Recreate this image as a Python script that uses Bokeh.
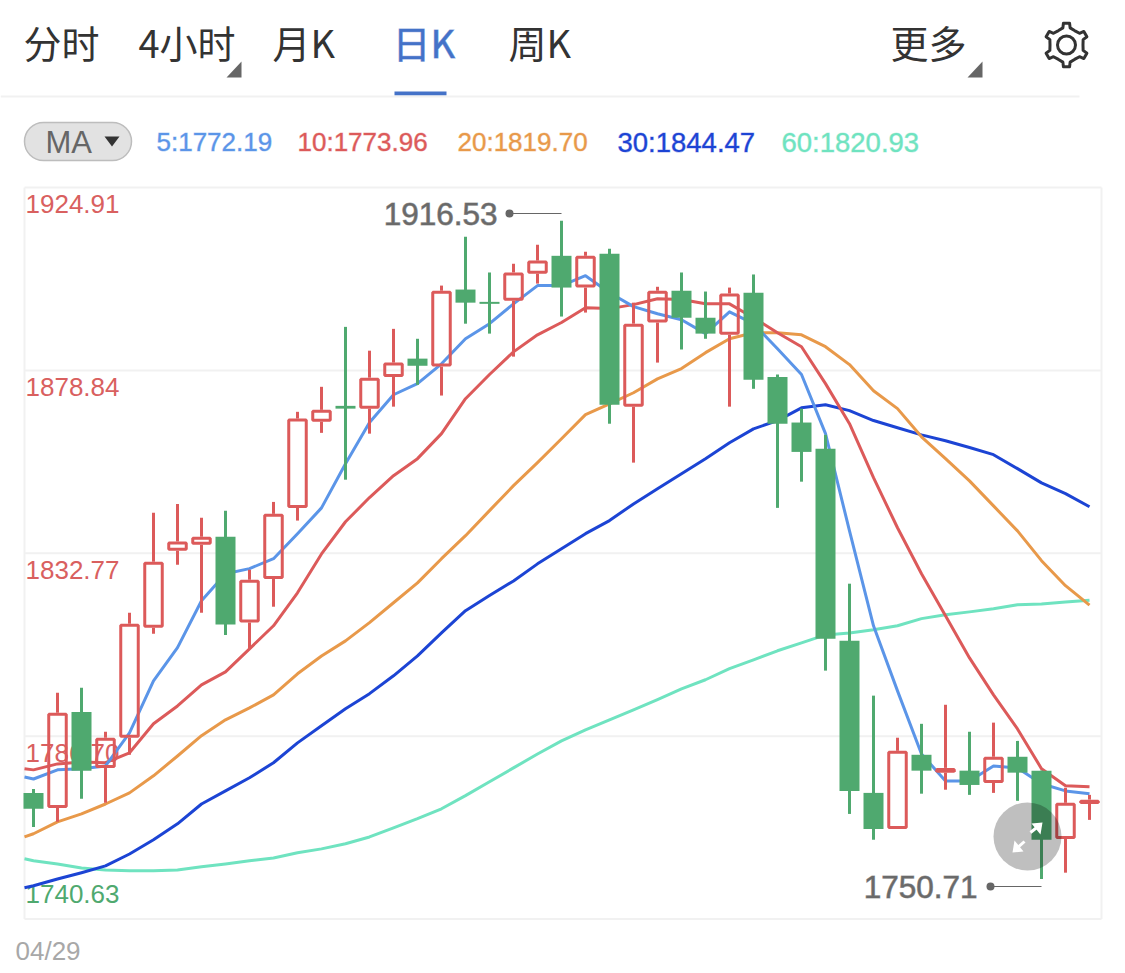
from bokeh.plotting import figure
from bokeh.models import Range1d
from bokeh.core.properties import value
from bokeh.embed import file_html
from bokeh.resources import INLINE
import math

# ---- chart values ----
tick_values = [1924.91, 1878.84, 1832.77, 1786.70, 1740.63]
tick_labels = ["1924.91", "1878.84", "1832.77", "1786.70", "1740.63"]
tick_colors = ["#d9605f", "#d9605f", "#d9605f", "#d9605f", "#4fa96f"]
date_label = "04/29"
tabs = ["分时", "4小时", "月K", "日K", "周K", "更多"]
ma_labels = ["5:1772.19", "10:1773.96", "20:1819.70", "30:1844.47", "60:1820.93"]
peak_label, trough_label = "1916.53", "1750.71"

highs = [1773.4,1797.6,1798.9,1787.8,1817.8,1843.0,1845.2,1841.7,1843.5,1828.6,1845.7,1868.4,1874.7,1889.8,1883.8,
         1889.3,1886.8,1900.2,1912.5,1903.5,1905.7,1910.5,1916.53,1908.7,1909.5,1895.9,1899.9,1903.5,1898.7,1899.7,
         1903.0,1877.8,1869.2,1862.6,1825.1,1796.9,1786.3,1789.8,1794.6,1787.8,1790.1,1785.5,1778.0,1773.7,1771.9]
tops =  [1772.4,1792.6,1792.8,1786.3,1815.0,1830.6,1835.7,1836.9,1836.9,1826.1,1842.7,1866.7,1868.9,1869.9,1877.0,
         1880.8,1881.8,1898.9,1899.2,1896.1,1903.5,1906.5,1907.7,1907.7,1908.2,1890.6,1898.9,1898.9,1892.1,1898.2,
         1898.4,1877.2,1865.7,1859.1,1810.7,1772.4,1783.0,1782.0,1778.7,1778.0,1781.5,1781.5,1778.0,1769.9,1770.7]
bottoms=[1768.4,1768.6,1778.0,1778.7,1786.3,1814.0,1833.4,1834.9,1814.8,1815.3,1826.3,1844.2,1865.9,1869.2,1869.2,
         1877.2,1880.0,1879.8,1895.9,1895.6,1896.4,1903.2,1899.7,1899.7,1870.2,1869.7,1890.9,1892.1,1888.1,1887.8,
         1876.5,1865.4,1858.3,1811.2,1772.9,1763.3,1763.3,1778.0,1777.5,1774.4,1774.9,1777.5,1760.6,1760.8,1769.6]
lows =  [1763.8,1765.1,1770.9,1769.9,1782.0,1812.5,1829.9,1817.8,1812.2,1808.7,1819.3,1841.0,1863.1,1851.3,1862.9,
         1869.7,1875.2,1872.5,1890.6,1888.1,1882.3,1900.7,1892.4,1893.4,1865.4,1855.6,1880.8,1884.1,1886.8,1869.7,
         1874.2,1844.2,1850.8,1803.2,1767.1,1760.6,1763.3,1772.2,1773.2,1771.9,1772.4,1770.4,1750.71,1752.3,1765.6]
is_up = [0,1,0,1,1,1,1,1,0,1,1,1,1,0,1, 1,0,1,0,0,1,1,0,1,0,1,1,0,0,1, 0,0,0,0,0,0,1,0,1,0,1,0,0,1,1]

# first entry of each MA is the value at the chart's left edge
ma5 = [1776.4,1775.9,1778.2,1778.5,1779.2,1787.5,1800.6,1809.0,1820.8,1827.6,1828.9,1831.4,1837.7,1844.2,1855.3,1865.7,
       1872.7,1875.5,1880.5,1886.8,1890.6,1895.6,1900.2,1900.2,1902.7,1898.4,1894.9,1893.1,1891.6,1888.1,1893.6,1890.6,
       1884.3,1877.8,1862.9,1838.4,1814.5,1798.1,1782.2,1775.4,1775.4,1779.2,1778.7,1774.7,1772.9,1772.19]
ma10 = [1778.5,1778.2,1779.7,1780.2,1780.0,1782.5,1789.8,1794.3,1799.6,1802.9,1808.7,1814.5,1822.8,1832.6,1840.7,1846.8,
        1852.3,1856.6,1862.9,1871.7,1877.8,1883.5,1887.8,1890.9,1894.6,1894.4,1895.4,1896.9,1896.7,1895.6,1895.6,1892.1,
        1888.3,1884.8,1875.5,1865.4,1851.8,1839.2,1827.6,1817.0,1806.4,1797.1,1788.5,1778.5,1774.2,1773.96]
ma20 = [1761.3,1762.1,1765.1,1767.1,1769.6,1772.4,1776.7,1781.7,1786.8,1790.8,1793.8,1797.1,1802.4,1806.9,1810.7,1815.3,
        1820.3,1825.3,1831.4,1837.2,1843.5,1849.8,1855.6,1861.6,1867.7,1870.4,1873.2,1876.7,1879.3,1883.3,1886.8,1888.3,
        1888.3,1887.8,1884.8,1880.3,1873.7,1869.2,1862.1,1856.6,1851.0,1844.7,1838.4,1830.9,1824.6,1819.70]
ma30 = [1748.5,1749.0,1750.7,1752.3,1754.0,1757.0,1760.6,1764.6,1769.6,1772.9,1776.2,1780.0,1785.0,1789.3,1793.6,1797.4,
        1801.9,1806.9,1812.7,1818.3,1822.1,1825.8,1830.1,1833.9,1837.7,1841.0,1845.2,1849.0,1852.8,1856.6,1860.6,1864.1,
        1866.2,1869.4,1870.2,1868.7,1866.2,1864.4,1862.6,1861.1,1859.4,1857.6,1854.1,1850.5,1847.8,1844.47]
ma60 = [1755.8,1755.3,1754.5,1753.5,1753.0,1752.8,1752.8,1753.0,1753.8,1754.5,1755.3,1756.0,1757.3,1758.3,1759.6,1761.3,
        1763.6,1765.9,1768.4,1771.7,1775.2,1778.7,1782.2,1785.5,1788.3,1790.8,1793.3,1795.9,1798.6,1800.9,1803.7,1805.9,
        1808.2,1810.2,1812.2,1812.7,1813.5,1814.5,1816.3,1817.3,1818.0,1818.8,1819.8,1820.0,1820.5,1820.93]

# ---- styles / layout ----
C_RED, C_GREEN = "#dc5a5a", "#4fa96f"
C_MA = ["#5b95e8", "#dc5a5a", "#e8994a", "#1c44d4", "#6fe3c0"]
C_GRID = "#f1f1f1"
SANS = value("Liberation Sans")
CJK = value("Noto Sans CJK SC")

W, H = 1117, 965
LEFT_PX, RIGHT_PX, TOP_PX, BOTTOM_PX = 24.0, 1101.0, 187.0, 918.5
X0_PX, STEP_PX = 33.0, 24.0
UNITS_PER_PX = (tick_values[0] - tick_values[-1]) / (BOTTOM_PX - TOP_PX)

def X(px):
    return (px - X0_PX) / STEP_PX

def Y(py):
    return tick_values[0] - (py - TOP_PX) * UNITS_PER_PX

p = figure(width=W, height=H, output_backend="svg", toolbar_location=None,
           x_range=Range1d(X(0), X(W)), y_range=Range1d(Y(H), Y(0)),
           x_axis_location=None, y_axis_location=None, min_border=0,
           outline_line_color=None, background_fill_color="white", border_fill_color="white")
p.grid.visible = False

# ---- chart frame and grid ----
x_left, x_right = X(LEFT_PX), X(RIGHT_PX)
p.segment([x_left] * len(tick_values), tick_values, [x_right] * len(tick_values), tick_values,
          line_color=C_GRID, line_width=2)
p.segment([x_left, x_right], [tick_values[0]] * 2, [x_left, x_right], [tick_values[-1]] * 2,
          line_color=C_GRID, line_width=2)
p.text([X(25)] * 4, tick_values[:4], text=tick_labels[:4], text_color=tick_colors[:4], text_font=SANS,
       text_font_size="26px", text_baseline="middle", y_offset=16.5)
p.text([X(25)], tick_values[4:], text=tick_labels[4:], text_color=tick_colors[4:], text_font=SANS,
       text_font_size="26px", text_baseline="middle", y_offset=-25)

# ---- moving averages ----
n = len(highs)
xs = list(range(n))
ma_x = [x_left] + xs
for series, colour in zip([ma60, ma30, ma20, ma10, ma5], [C_MA[4], C_MA[3], C_MA[2], C_MA[1], C_MA[0]]):
    p.line(ma_x, series, line_color=colour, line_width=3, line_join="round")

# ---- candles ----
up = [i for i in xs if is_up[i]]
down = [i for i in xs if not is_up[i]]
inset = 1.5 * UNITS_PER_PX   # the hollow bodies' stroke is centred on the rectangle
p.segment(down, [highs[i] for i in down], down, [lows[i] for i in down], line_color=C_GREEN, line_width=3)
p.vbar(x=down, top=[tops[i] for i in down], bottom=[bottoms[i] for i in down], width=20 / STEP_PX,
       fill_color=C_GREEN, line_color=None)
p.segment(up, [highs[i] for i in up], up, [tops[i] for i in up], line_color=C_RED, line_width=3)
p.segment(up, [bottoms[i] for i in up], up, [lows[i] for i in up], line_color=C_RED, line_width=3)
body_top = [max(tops[i] - inset, (tops[i] + bottoms[i]) / 2) for i in up]
body_bot = [min(bottoms[i] + inset, (tops[i] + bottoms[i]) / 2) for i in up]
p.vbar(x=up, top=body_top, bottom=body_bot, width=17.5 / STEP_PX,
       fill_color=None, line_color=C_RED, line_width=3)

# ---- high / low callouts ----
i_hi, i_lo = highs.index(max(highs)), lows.index(min(lows))
for idx, label, dot_px, py, text_right in [(i_hi, peak_label, 509, 213, 497), (i_lo, trough_label, 990, 886, 977)]:
    p.segment([X(dot_px)], [Y(py)], [idx], [Y(py)], line_color="#666666", line_width=1)
    p.scatter([X(dot_px)], [Y(py)], size=8, fill_color="#666666", line_color=None)
    p.text([X(text_right)], [Y(py)], text=[label], text_color="#6a6a6a", text_font=SANS, text_font_size="31.5px",
           text_align="right", text_baseline="middle", text_outline_color="#6a6a6a99")

# ---- tab bar ----
tab_px = [23, 138, 272, 392, 508, 890]
for label, px in zip(tabs, tab_px):
    colour = "#4472c8" if label == "日K" else "#333333"
    outline = "#4472c899" if label == "日K" else None
    p.text([X(px)], [Y(41)], text=[label], text_color=colour, text_font=CJK, text_font_size="38px",
           text_baseline="middle", text_outline_color=outline)
p.quad(left=[X(394)], right=[X(446)], top=[Y(91)], bottom=[Y(95)], fill_color="#4472c8", line_color=None)
p.segment([X(0)], [Y(96)], [X(1079)], [Y(96)], line_color=C_GRID, line_width=2)
for px in (226, 967):
    p.patch([X(px), X(px + 15), X(px + 15)], [Y(77), Y(77), Y(61)], fill_color="#666666", line_color=None)

# ---- settings gear ----
gx, gy, gear_x, gear_y = 1066, 44.5, [], []
for k in range(6):
    a = 90 + 60 * k
    for da, r in [(-29, 16.5), (-12, 17.5), (-8, 22), (8, 22), (12, 17.5), (29, 16.5)]:
        t = math.radians(a + da)
        gear_x.append(X(gx + r * math.cos(t)))
        gear_y.append(Y(gy - r * math.sin(t)))
gear_x.append(gear_x[0])
gear_y.append(gear_y[0])
p.line(gear_x, gear_y, line_color="#333333", line_width=3, line_join="round")
p.scatter([X(gx)], [Y(gy)], size=18, fill_color=None, line_color="#333333", line_width=3)

# ---- MA selector and legend ----
p.quad(left=[X(24)], right=[X(131)], top=[Y(122)], bottom=[Y(160)], fill_color="#e2e2e2",
       line_color="#bdbdbd", line_width=1.5, border_radius=19)
p.text([X(45)], [Y(142)], text=["MA"], text_color="#666666", text_font=SANS, text_font_size="31px",
       text_baseline="middle")
p.patch([X(104), X(119), X(111.5)], [Y(136), Y(136), Y(146)], fill_color="#333333", line_color=None)
legend_px = [156, 297, 457, 617, 781]
legend_sizes = ["26px", "26px", "26px", "27.5px", "27.5px"]
for label, colour, px, size in zip(ma_labels, C_MA, legend_px, legend_sizes):
    p.text([X(px)], [Y(141.5)], text=[label], text_color=colour, text_font=SANS, text_font_size=size,
           text_baseline="middle", text_outline_color=colour + "66")

# ---- date ----
p.text([X(15)], [Y(950)], text=[date_label], text_color="#a8a8a8", text_font=SANS, text_font_size="26px",
       text_baseline="middle")

# ---- floating expand button ----
p.scatter([X(1027)], [Y(836)], size=68, fill_color="black", fill_alpha=0.25, line_color=None)
p.line([X(1030), X(1040)], [Y(832), Y(824)], line_color="white", line_width=3)
p.line([X(1024), X(1015)], [Y(841), Y(849)], line_color="white", line_width=3)
p.patch([X(1042), X(1031), X(1040)], [Y(822), Y(823), Y(834)], fill_color="white", line_color=None)
p.patch([X(1012), X(1023), X(1014)], [Y(852), Y(851), Y(840)], fill_color="white", line_color=None)

open("out.html", "w").write(file_html(p, INLINE))
